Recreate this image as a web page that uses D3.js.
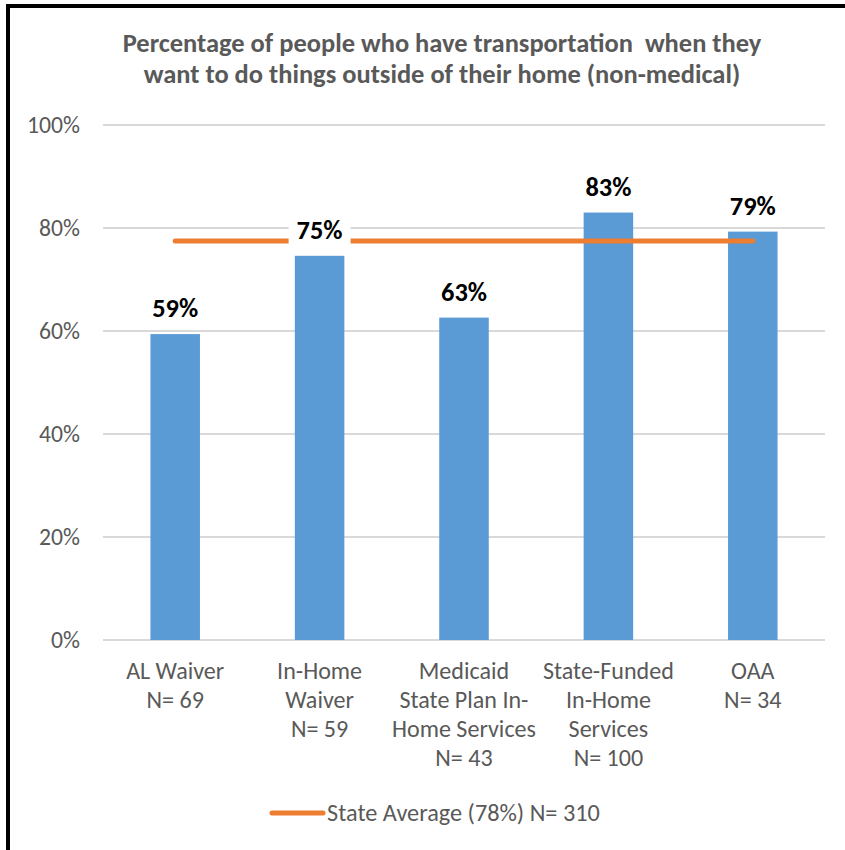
<!DOCTYPE html>
<html><head><meta charset="utf-8">
<script src="https://cdn.jsdelivr.net/npm/d3@7"></script>
<style>body{margin:0;background:#fff}svg{display:block}text{white-space:pre}</style>
</head><body><svg id="c" width="845" height="850"></svg>
<script>
const titleLines = ["Percentage of people who have transportation  when they", "want to do things outside of their home (non-medical)"];
const categories = [
  ["AL Waiver", "N= 69"],
  ["In-Home", "Waiver", "N= 59"],
  ["Medicaid", "State Plan In-", "Home Services", "N= 43"],
  ["State-Funded", "In-Home", "Services", "N= 100"],
  ["OAA", "N= 34"]
];
const values = [59.4, 74.6, 62.6, 83.0, 79.3];
const valueLabels = ["59%", "75%", "63%", "83%", "79%"];
const stateAverage = 77.5;
const legendLabel = "State Average (78%) N= 310";
const yTicks = [0, 20, 40, 60, 80, 100];

const FONT = "Carlito, Calibri, Lato, sans-serif";
const svg = d3.select("#c");
const W = 845, H = 850;
svg.append("rect").attr("width", W).attr("height", H).attr("fill", "#fff");

const x = d3.scaleBand().domain(d3.range(categories.length)).range([103, 825])
  .paddingInner(0.657).paddingOuter(0.3285);
const y = d3.scaleLinear().domain([0, 100]).range([640, 125]);

function measureSize(text, weight, target) {
  const t = svg.append("text").attr("xml:space", "preserve").attr("font-family", FONT).attr("font-weight", weight)
    .attr("font-size", 20).text(text);
  const s = 20 * target / t.node().getComputedTextLength();
  t.remove();
  return s;
}
const titleSize = measureSize(titleLines[0], "bold", 639);
const tickSize = measureSize("100%", "normal", 53);
const catSize = measureSize("Home Services", "normal", 144);
const legSize = measureSize(legendLabel, "normal", 273);
const lblSize = measureSize("59%", "bold", 46);

// title
svg.append("g").selectAll("text").data(titleLines).join("text")
  .attr("xml:space", "preserve")
  .attr("x", 442).attr("y", (d, i) => 52 + i * 31)
  .attr("text-anchor", "middle").attr("font-family", FONT).attr("font-weight", "bold")
  .attr("font-size", titleSize).attr("fill", "#595959").text(d => d);

// gridlines
svg.append("g").selectAll("line").data(yTicks).join("line")
  .attr("x1", 103).attr("x2", 825).attr("y1", d => y(d)).attr("y2", d => y(d))
  .attr("stroke", "#d9d9d9").attr("stroke-width", 2);

// y axis labels
const yAxis = d3.axisLeft(y).tickValues(yTicks).tickFormat(d => d + "%").tickSize(0).tickPadding(0);
const ya = svg.append("g").attr("transform", "translate(80,0)").call(yAxis);
ya.select(".domain").remove();
ya.selectAll("text").attr("font-family", FONT).attr("font-size", tickSize).attr("fill", "#595959");

// bars
svg.append("g").selectAll("rect").data(values).join("rect")
  .attr("x", (d, i) => x(i)).attr("width", x.bandwidth())
  .attr("y", d => y(d)).attr("height", d => y(0) - y(d))
  .attr("fill", "#5b9bd5");

// state average line
const avgLine = d3.line().x(d => d[0]).y(d => d[1]);
svg.append("path")
  .attr("d", avgLine([[x(0) + x.bandwidth() / 2, y(stateAverage)], [x(categories.length - 1) + x.bandwidth() / 2, y(stateAverage)]]))
  .attr("stroke", "#ed7d31").attr("stroke-width", 5).attr("stroke-linecap", "round").attr("fill", "none");

// data labels
const lg = svg.append("g").selectAll("g").data(values).join("g")
  .attr("transform", (d, i) => `translate(${x(i) + x.bandwidth() / 2},${y(d) - 17})`);
lg.append("rect").attr("x", -31).attr("width", 62).attr("y", -22).attr("height", 28).attr("fill", "#fff");
lg.append("text").attr("text-anchor", "middle").attr("font-family", FONT).attr("font-weight", "bold")
  .attr("font-size", lblSize).attr("fill", "#000").text((d, i) => valueLabels[i]);

// category labels
const cg = svg.append("g").selectAll("text").data(categories).join("text")
  .attr("text-anchor", "middle").attr("font-family", FONT).attr("font-size", catSize).attr("fill", "#595959");
cg.selectAll("tspan").data((d, i) => d.map(t => ({ t, i }))).join("tspan")
  .attr("x", d => x(d.i) + x.bandwidth() / 2).attr("y", (d, j) => 679 + j * 29).text(d => d.t);

// legend
svg.append("line").attr("x1", 272).attr("x2", 323).attr("y1", 813).attr("y2", 813)
  .attr("stroke", "#ed7d31").attr("stroke-width", 5).attr("stroke-linecap", "round");
svg.append("text").attr("x", 327).attr("y", 813).attr("dy", "0.35em").attr("font-family", FONT)
  .attr("font-size", legSize).attr("fill", "#595959").text(legendLabel);

// border
svg.append("path").attr("d", `M8,${H} V6 H${W}`).attr("stroke", "#000").attr("stroke-width", 4).attr("fill", "none");
</script></body></html>
